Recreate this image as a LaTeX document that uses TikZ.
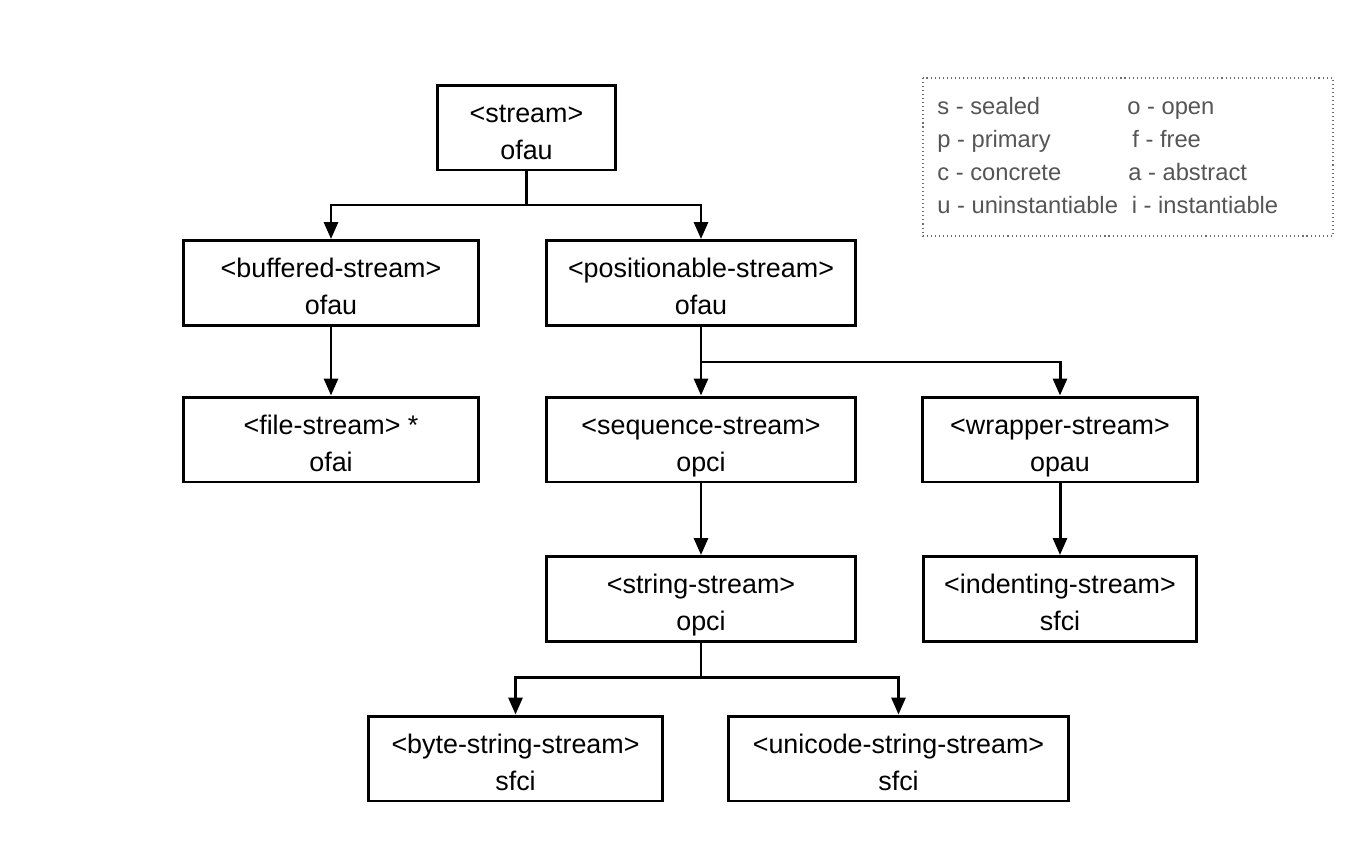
\documentclass[tikz,border=0pt]{standalone}
\usepackage{fontspec}
\setmainfont{Liberation Sans}
\usetikzlibrary{positioning,calc,arrows.meta}

\definecolor{legendgray}{RGB}{85,85,85}
\definecolor{legendline}{RGB}{110,110,110}

% two lines of a class box, with fixed baselines
\newcommand{\classtext}[2]{\rule{0pt}{19.2pt}#1\\\rule[-4pt]{0pt}{4pt}#2}

\begin{document}
\begin{tikzpicture}[x=0.02cm,y=-0.02cm,
    box/.style={draw,line width=1.7pt,align=center,minimum height=1.7cm,inner sep=2pt,
        font=\fontsize{15.3}{21}\selectfont},
    arr/.style={line width=1.7pt,-{Triangle[length=0.34cm,width=0.28cm]}},
    legend/.style={anchor=base west,inner sep=0pt,text=legendgray,font=\fontsize{13.5}{16}\selectfont}]
    \useasboundingbox (0,0) rectangle (1367,866);

    \node[box,minimum width=3.58cm] (stream) at (526.5,127.5) {\classtext{<stream>}{ofau}};
    \node[box,minimum width=5.92cm] (buffered) at (331,283) {\classtext{<buffered-stream>}{ofau}};
    \node[box,minimum width=6.2cm] (positionable) at (701,283) {\classtext{<positionable-stream>}{ofau}};
    \node[box,minimum width=5.92cm] (file) at (331,439.5) {\classtext{<file-stream> *}{ofai}};
    \node[box,minimum width=6.2cm] (sequence) at (701,439.5) {\classtext{<sequence-stream>}{opci}};
    \node[box,minimum width=5.52cm] (wrapper) at (1060,439.5) {\classtext{<wrapper-stream>}{opau}};
    \node[box,minimum width=6.2cm] (string) at (701,599) {\classtext{<string-stream>}{opci}};
    \node[box,minimum width=5.48cm] (indenting) at (1060,599) {\classtext{<indenting-stream>}{sfci}};
    \node[box,minimum width=5.9cm] (bytestring) at (515.5,758.5) {\classtext{<byte-string-stream>}{sfci}};
    \node[box,minimum width=6.82cm] (unicodestring) at (898.5,758.5) {\classtext{<unicode-string-stream>}{sfci}};

    \coordinate (j1) at (526.5,205);
    \coordinate (j2) at (701,362);
    \coordinate (j3) at (701,677);

    \draw[arr] (stream.south) -- (j1) -| (buffered.north);
    \draw[arr] (j1) -| (positionable.north);
    \draw[arr] (buffered.south) -- (file.north);
    \draw[arr] (positionable.south) -- (sequence.north);
    \draw[arr] (j2) -| (wrapper.north);
    \draw[arr] (sequence.south) -- (string.north);
    \draw[arr] (wrapper.south) -- (indenting.north);
    \draw[line width=1.7pt] (string.south) -- (j3);
    \draw[arr] (j3) -| (bytestring.north);
    \draw[arr] (j3) -| (unicodestring.north);

    % legend
    \draw[legendline,line width=0.6pt,dash pattern=on 0.6pt off 1.7pt] (923,78) rectangle (1333,236);
    \node[legend] (ls) at (937,114.5) {s - sealed};
    \node[legend] (lp) at (937,147.5) {p - primary};
    \node[legend] (lc) at (937,180.5) {c - concrete};
    \node[legend] (lu) at (937,213.5) {u - uninstantiable};
    \node[legend] (lo) at (1127,114.5) {o - open};
    \node[legend] (lf) at (1132,147.5) {f - free};
    \node[legend] (la) at (1128,180.5) {a - abstract};
    \node[legend] (li) at (1131.5,213.5) {i - instantiable};
\end{tikzpicture}
\end{document}
